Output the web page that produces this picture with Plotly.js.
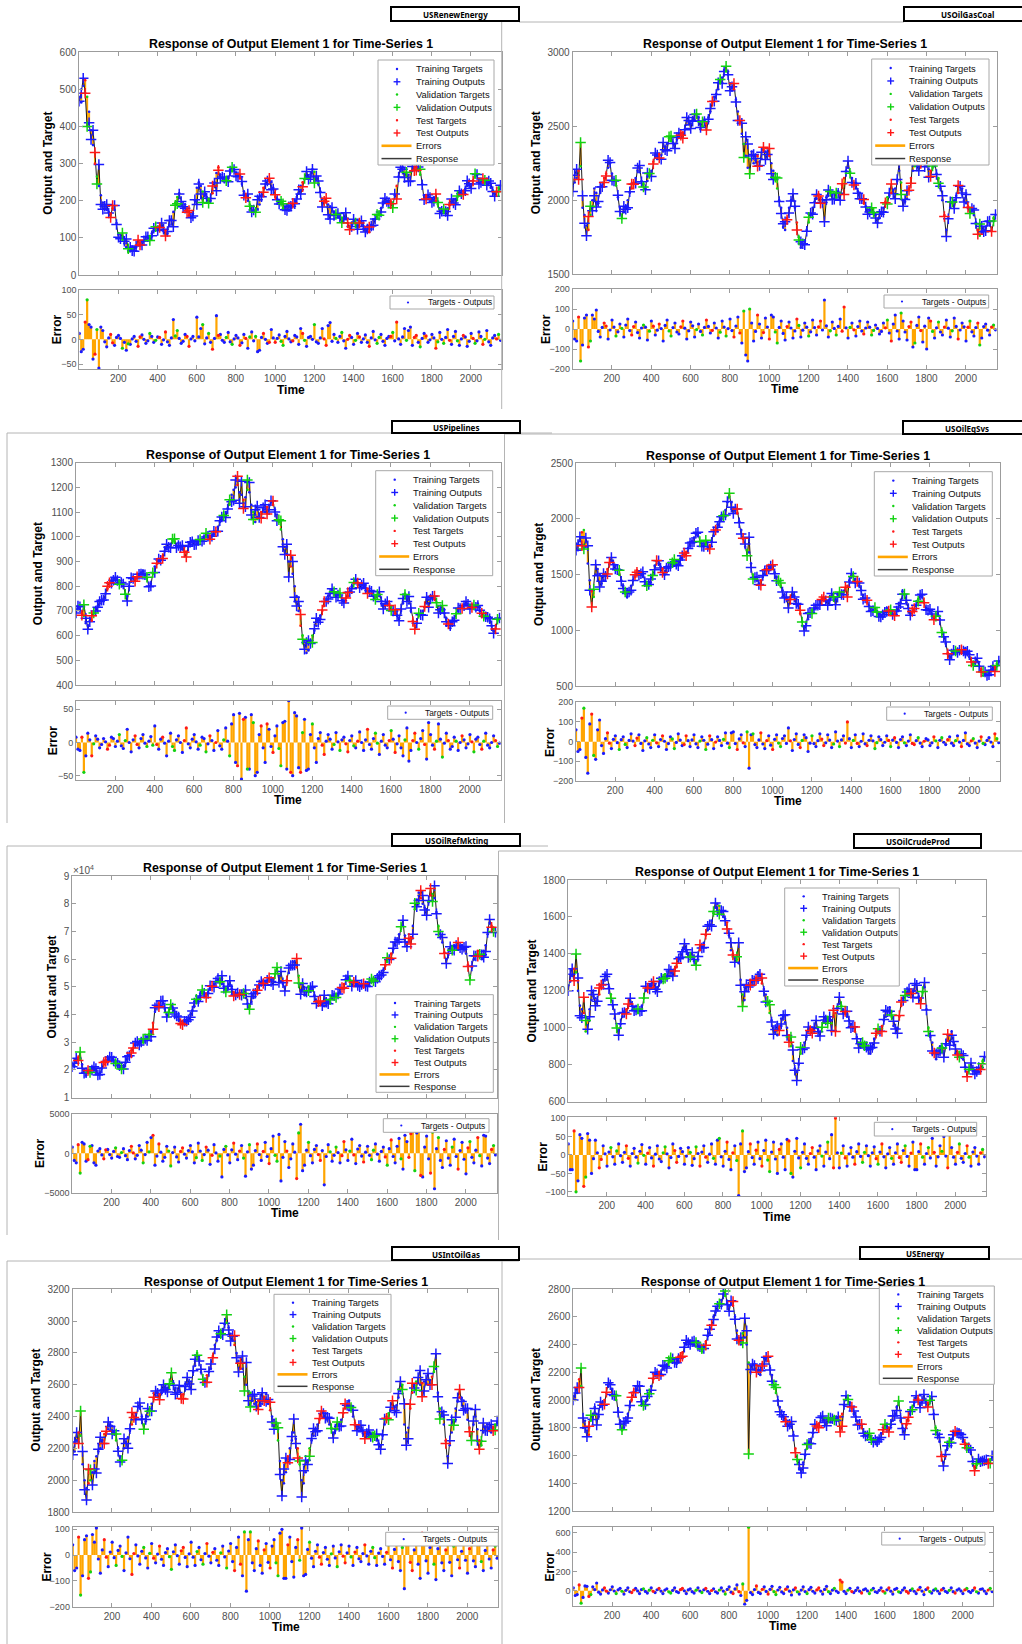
<!DOCTYPE html>
<html><head><meta charset="utf-8">
<script src="https://cdn.plot.ly/plotly-3.0.1.min.js"></script>
<style>html,body{margin:0;padding:0;background:#fff;}#chart{width:1022px;height:1644px;}</style>
</head><body><div id="chart"></div>
<script>
// ---------------- DATA ----------------
// two interleaved sampling grids of the time axis: A at t = 1,21,41,...  B at t = 11,31,51,...
const N_PTS = 108;
const TIME_A = Array.from({length: N_PTS}, (_, i) => 1 + 20 * i);
const TIME_B = Array.from({length: N_PTS}, (_, i) => 11 + 20 * i);
const XTICKS = [200, 400, 600, 800, 1000, 1200, 1400, 1600, 1800, 2000];

const PANEL_NAMES = ['USRenewEnergy','USOilGasCoal','USPipelines','USOilEqSvs','USOilRefMkting','USOilCrudeProd','USIntOilGas','USEnergy'];
const LEGEND_LABELS = ['Training Targets','Training Outputs','Validation Targets','Validation Outputs','Test Targets','Test Outputs','Errors','Response'];
const ERR_LEGEND_LABEL = 'Targets - Outputs';
const TITLE = 'Response of Output Element 1 for Time-Series 1';

// split of each sample: a = training, v = validation, e = test
const SPLIT_A = ["aavaeaaaea","avaaaeaava","aaeaavaaea","aaaveaaaav","aeaaavaeaa","eavaaaaeaa","vaaeaaavae","aaaaeavaaa","veaaaaevaa","aeavaaaaea","avaeaaav"].join('');
const SPLIT_B = ["aeaavaaaea","aavaaeaaav","eaaavaaeaa","avaaaeavaa","aaevaaaaea","avaaeaavaa","aaeaavaaea","veaaaavaae","aaavaeaaea","avaaeavaaa","eaavaaea"].join('');

// ---- USRenewEnergy
const TGT_RENEW_A = [480,510,480,390,300,240,195,175,165,175, 110,95,75,65,70,80,90,95,105,120, 125,130,120,135,170,210,190,190,160,165, 235,240,215,205,220,275,270,255,265,280, 275,260,225,200,185,175,190,235,245,250, 210,200,180,190,180,200,220,250,265,270, 278,245,205,195,185,170,160,155,150,130, 140,135,140,125,115,150,155,180,195,200, 195,240,280,285,270,280,290,270,215,210, 205,200,180,170,180,195,205,215,225,240, 245,265,260,250,260,235,220,235];
const TGT_RENEW_B = [465,525,440,350,265,215,180,170,180,140, 100,85,62,66,74,86,92,100,112,128, 132,122,112,150,195,220,180,175,155,200, 250,225,210,200,250,290,262,258,275,285, 268,245,210,190,172,178,215,245,255,235, 205,195,182,185,190,210,240,258,262,285, 262,225,200,190,178,165,160,150,140,135, 138,145,132,118,135,150,165,190,200,198, 215,265,290,275,278,285,285,245,212,208, 202,190,172,175,188,200,210,220,232,242, 255,268,255,255,248,228,225,240];
const ERR_RENEW_A = [12,-20,80,25,-30,-58,18,-15,10,-12, 8,-18,-22,-10,6,-14,9,-8,12,-6, 5,-10,15,-12,40,18,-8,10,-14,6, 45,22,-9,12,-20,48,10,-6,14,-10, 8,-12,10,-18,15,6,-22,12,-8,20, -6,9,-12,16,-5,8,-10,12,-14,6, 30,-8,22,-12,34,10,-6,14,-18,8, -10,12,-6,9,-14,16,-8,10,-12,6, 14,35,-10,22,18,-12,8,-15,12,-6, 10,-18,14,-8,20,-10,16,-12,8,-14, 12,-8,15,-10,18,-12,8,10];
const ERR_RENEW_B = [-25,35,30,-40,20,25,-5,3,-7,4, 2,-6,-9,1,-4,5,0,-3,6,-2, 4,-1,-5,3,7,2,-4,6,1,-3, 5,30,3,-6,2,8,-2,4,-5,1, 3,-7,2,5,-3,-25,4,0,-6,3, 2,-4,6,1,-3,5,22,-2,4,0, -5,3,1,28,-4,2,6,-3,0,4, -2,5,1,-6,3,-1,4,-4,2,6, -3,1,5,-2,25,4,-6,2,7,-1, 3,-5,0,4,-2,6,-3,1,5,-4, 2,-3,6,0,-5,3,1,-2];

// ---- USOilGasCoal
const TGT_GASCOAL_A = [2100,2150,2230,1900,1800,2000,2050,2050,2150,2220, 2180,2100,1950,1920,2000,2080,2150,2190,2110,2130, 2200,2290,2310,2330,2380,2400,2380,2430,2460,2510, 2520,2540,2560,2500,2520,2600,2700,2750,2830,2870, 2790,2750,2600,2450,2300,2280,2250,2300,2280,2330, 2300,2200,2080,1950,1800,1950,2000,1850,1680,1730, 1850,1950,2010,2020,2000,2030,2040,2020,2050,2150, 2220,2150,2080,2050,1980,1940,1920,1900,1880,1950, 2020,2050,2080,2200,2000,2010,2150,2230,2260,2250, 2230,2200,2230,2150,2000,1800,1950,2000,2050,2080, 1980,1950,1900,1800,1780,1820,1830,1880];
const TGT_GASCOAL_B = [2120,2200,1950,1830,1900,2080,1980,2100,2180,2250, 2140,2020,1880,1960,2050,2120,2200,2130,2080,2170, 2260,2300,2280,2360,2420,2390,2410,2450,2480,2530, 2550,2580,2480,2540,2560,2660,2720,2800,2880,2850, 2760,2680,2520,2380,2220,2330,2270,2260,2340,2320, 2250,2140,2000,1820,1880,2000,1950,1750,1700,1800, 1900,1990,2040,1980,2020,2050,2010,2060,2100,2200, 2190,2100,2060,2000,1960,1930,1910,1850,1910,1990, 2030,2070,2130,2120,1990,2080,2200,2250,2240,2240, 2210,2220,2180,2080,1900,1880,1980,2030,2090,2000, 1960,1930,1850,1760,1800,1850,1800,1900];
const ERR_GASCOAL_A = [40,-60,-160,55,-90,70,95,-40,30,-50, 45,-35,25,-40,50,-30,35,-45,20,-55, 40,-30,25,-60,45,-35,30,-25,40,-50, 35,-40,25,-30,45,-20,30,-45,40,-35, 50,-40,60,-70,-130,100,-60,70,-45,55, -50,60,-70,40,-55,35,-45,50,-40,30, -35,45,-30,40,145,-40,35,-30,50,110, -45,30,-35,40,-25,35,-30,20,-25,30, 45,-60,70,-50,40,-55,35,-70,60,-65, -100,40,-45,35,-30,45,-40,55,-50,30, -60,40,-35,30,-45,25,-30,20];
const ERR_GASCOAL_B = [-50,60,-80,70,-60,50,-12,8,15,-5, 10,-14,3,20,-8,12,-18,5,9,-11, 14,-6,2,18,-10,7,-15,11,4,-9, 16,-3,-12,8,13,-7,5,-16,10,2, -8,15,-20,90,-160,30,-12,25,-18,10, 70,-15,8,-22,12,5,-10,18,-6,9, -14,7,11,-5,16,-9,3,13,-11,6, 8,-4,12,-10,5,9,-7,3,-12,6, -20,25,-10,80,-15,12,-90,18,-8,14, 55,-12,6,-15,10,4,-9,13,-5,11, 9,-14,7,-80,12,-6,10,-4];

// ---- USPipelines
const TGT_PIPE_A = [700,705,680,640,660,710,730,750,790,820, 830,820,800,760,820,830,840,860,830,810, 880,900,920,950,970,980,975,950,940,970, 980,975,990,1000,1000,1010,1040,1070,1100,1130, 1190,1210,1170,1160,1180,1100,1080,1100,1100,1130, 1130,1090,1030,960,900,850,760,640,580,540, 600,640,680,720,760,780,770,760,740,760, 800,820,810,800,790,770,760,760,720,730, 720,690,670,730,760,700,640,680,700,730, 760,750,720,700,670,630,670,700,720,730, 720,710,730,680,690,660,620,660];
const TGT_PIPE_B = [710,690,650,660,690,720,740,770,810,830, 825,810,770,800,835,835,855,845,800,850, 890,910,940,960,985,960,960,940,960,985, 970,985,995,1000,1005,1020,1060,1090,1115,1170, 1200,1180,1150,1190,1130,1060,1090,1110,1120,1140, 1110,1060,990,930,880,800,700,600,530,580, 620,660,700,740,775,775,765,745,750,780, 810,815,805,795,780,765,765,740,725,725, 705,680,700,770,730,660,650,690,715,745, 755,735,710,690,650,650,690,710,725,725, 715,720,700,680,670,640,630,670];
const ERR_PIPE_A = [8,-12,-45,14,-20,10,-8,6,-10,8, -6,12,-9,20,-14,10,-8,12,-6,9, 25,-10,8,-20,14,-12,10,-15,22,-8, 12,-10,8,-14,10,-12,18,-10,22,-20, 42,-35,-55,38,-40,30,-45,25,-30,20, -15,25,-35,32,63,-50,40,-45,35,-40, 28,-30,15,-18,12,-10,15,-12,8,-14, 10,-8,16,-12,20,-10,14,-18,12,-8, 18,-15,10,-20,22,-12,14,-10,18,-25, 12,-10,28,-22,14,-10,8,-12,10,-8, 12,-14,8,-10,14,-8,10,-6];
const ERR_PIPE_B = [-10,8,-20,4,-2,5,-3,1,-4,6, 2,-5,3,0,4,-3,6,-1,2,-4, -3,5,-1,2,-6,4,0,3,-2,5, 1,-4,6,-2,3,0,-5,4,2,28, -30,44,35,-40,42,-50,12,-8,28,-6, 10,-9,30,-40,-45,45,-38,15,-42,12, -8,6,-4,2,5,-3,1,4,-2,3, -5,2,0,4,-3,6,-1,2,-4,3, 5,-2,-8,4,-28,3,0,6,-3,30, -4,2,5,-1,3,-6,2,0,4,-2, 1,5,-3,2,-4,0,3,-1];

// ---- USOilEqSvs
const TGT_EQSVS_A = [1780,1800,1900,1600,1350,1500,1500,1450,1550,1620, 1580,1500,1400,1300,1400,1480,1530,1480,1420,1430, 1580,1600,1550,1520,1600,1600,1620,1650,1700,1760, 1830,1850,1780,1770,1760,1850,1950,2000,2080,2200, 2100,2050,1900,1750,1700,1500,1450,1450,1500,1580, 1550,1480,1400,1320,1270,1300,1280,1150,1030,1100, 1180,1200,1270,1280,1260,1300,1280,1320,1350,1400, 1480,1460,1400,1320,1250,1200,1170,1150,1120,1200, 1160,1150,1180,1350,1250,1170,1180,1280,1300,1200, 1170,1120,1140,1000,880,760,800,830,800,840, 760,700,720,650,610,620,650,700];
const TGT_EQSVS_B = [1720,1880,1750,1450,1300,1550,1420,1500,1600,1600, 1540,1450,1330,1350,1450,1540,1500,1440,1400,1500, 1620,1570,1500,1560,1620,1590,1640,1680,1740,1800, 1860,1800,1760,1740,1800,1900,1980,2040,2150,2150, 2080,1980,1820,1720,1600,1460,1420,1480,1550,1560, 1520,1440,1360,1290,1280,1310,1220,1080,1060,1150, 1190,1230,1290,1260,1280,1290,1300,1330,1380,1450, 1490,1430,1360,1280,1220,1180,1160,1130,1160,1180, 1150,1170,1250,1320,1200,1160,1230,1310,1250,1190, 1140,1130,1100,940,800,780,820,820,820,800, 720,710,680,620,600,640,670,720];
const ERR_EQSVS_A = [60,-40,170,-160,140,-90,110,-60,45,-35, 30,-40,25,-30,40,-20,35,-45,20,-30, 35,-25,30,-40,25,-35,40,-20,30,-25, 35,-30,25,-40,30,-35,25,-20,45,-30, 50,-40,35,-25,-135,40,-30,45,-35,30, -40,35,-25,30,70,-45,40,-30,35,-50, 30,-25,40,-20,35,-30,50,-25,30,100, -30,35,-25,40,-20,30,-35,25,-20,30, -25,20,-30,25,-20,35,-15,20,-25,15, -20,25,-30,20,-15,25,-20,30,-25,45, -20,15,-30,25,-15,20,-25,15];
const ERR_EQSVS_B = [-50,120,-80,90,-70,60,-20,15,-8,12, -5,10,-14,6,3,18,-9,4,-12,7, -6,11,2,-10,14,-4,8,-15,5,9, -11,3,7,-13,10,-2,6,12,-8,45, -10,14,-6,50,35,-15,9,-12,5,-18, 12,-7,16,-9,4,11,-14,6,20,-8, -10,5,13,-6,8,-12,3,9,-7,15, 6,-9,2,-11,7,4,-5,10,-3,6, 8,-4,11,-6,3,-9,5,-7,2,9, -6,4,7,-3,10,-8,5,-2,6,-11, 4,-7,3,-9,6,-2,40,-5];

// ---- USOilRefMkting
const TGT_REFMKT_A = [22000,23000,24000,20000,19000,21000,19000,19000,22000,24000, 24000,23000,21000,21000,24000,27000,29000,30000,30000,32000, 34000,41000,44000,44000,40000,42000,41000,38000,37000,37000, 40000,43000,46000,48000,47000,49000,51000,52000,51000,49000, 51000,48000,47000,48000,46000,43000,46000,50000,51000,52000, 52000,53000,56000,52000,50000,55000,59000,57000,51000,47000, 50000,49000,45000,44000,43000,45000,46000,47000,48000,51000, 53000,52000,51000,51000,50000,51000,52000,53000,53000,56000, 59000,62000,65000,69000,72000,66000,68000,78000,84000,80000, 78000,83000,82000,72000,66000,60000,63000,65000,64000,65000, 62000,54000,60000,63000,60000,65000,73000,71000];
const TGT_REFMKT_B = [21500,24500,22000,18000,20000,20000,18500,20500,23500,24500, 23500,22000,20500,22500,25500,28000,30000,30500,31000,33000, 37000,43000,45000,42000,41000,42500,39000,37000,37500,38500, 41500,45000,47000,47500,48000,50000,52000,51500,50000,50000, 49500,47000,47500,47000,44000,44500,48000,50500,51500,52000, 52500,54500,54000,51000,52500,57000,58000,54000,49000,48500, 49500,47000,44500,43500,44000,45500,46500,47500,49500,53000, 52500,51500,51000,50500,50500,51500,52500,53000,54500,57500, 60500,63500,67000,71000,68500,67000,72000,81500,82000,78500, 80500,83500,77000,68000,62500,61500,64000,64500,64500,63500, 58000,57000,61500,61500,63000,69000,72000,69500];
const ERR_REFMKT_A = [800,-1200,-2500,1200,-800,1000,-1500,600,-700,500, -600,700,-500,600,-800,900,-700,1000,-1200,1400, 2000,-1500,1200,-1000,900,-1600,800,-1100,700,-600, 1000,-1200,1300,-900,800,-1400,1100,-1000,-3000,900, -1200,1300,-800,1000,-2900,1100,-1500,1200,-900,1400, -1300,2200,-1000,-3500,1500,-1800,1200,-3200,3700,-1500, 1400,-1200,1000,-900,-4000,1100,-1000,800,-1200,1500, -900,1800,-1300,1000,-1100,900,-800,1200,-1000,800, -1500,1700,-1200,1900,-2000,1500,2500,-2200,2800,-3000, 2200,-2500,-4500,2000,-1800,1600,-1500,1800,-2000,1400, -2600,1500,-1200,2000,-1600,2200,-1300,1000];
const ERR_REFMKT_B = [-900,1100,1400,-1000,900,-1200,300,-200,450,-150, 250,-400,100,-300,350,50,-250,400,-150,200, 2300,-350,150,-500,300,100,-450,250,-100,350, 200,-550,300,-150,400,-250,50,-350,500,-200, 450,-100,300,-600,200,-2000,350,-150,250,-400, 600,-250,2400,-500,300,-700,150,2600,-2200,400, -300,500,-150,350,-400,200,-250,100,-300,450, 300,-200,550,-350,150,-250,400,-100,250,-450, 600,-400,900,-700,2300,-500,3000,2600,-2800,800, -700,2700,600,-900,500,-600,800,-400,350,-750, 700,-500,400,-300,2300,-600,500,-200];

// ---- USOilCrudeProd
const TGT_CRUDE_A = [1230,1280,1300,1120,1080,1050,1150,1160,1180,1260, 1260,1180,1050,990,1060,1100,1130,1110,1080,1120, 1200,1230,1220,1220,1250,1290,1280,1310,1330,1400, 1430,1400,1380,1360,1420,1460,1530,1580,1650,1660, 1600,1570,1420,1380,1350,1180,1200,1260,1230,1300, 1240,1180,1080,1000,960,1050,1030,960,820,760, 860,920,980,990,1000,980,1030,1060,1040,1080, 1130,1100,1060,1020,980,920,900,920,860,940, 970,1010,1060,1110,1010,1000,1120,1200,1180,1200, 1190,1160,1220,1000,920,830,900,890,930,980, 860,870,830,760,780,770,760,820];
const TGT_CRUDE_B = [1250,1320,1200,1100,980,1100,1170,1150,1220,1280, 1220,1120,1010,1020,1090,1120,1120,1090,1100,1160, 1220,1230,1210,1240,1270,1280,1300,1320,1370,1420, 1420,1390,1360,1390,1440,1500,1560,1620,1670,1630, 1590,1500,1400,1370,1260,1150,1230,1250,1270,1280, 1210,1130,1040,980,1000,1060,1000,900,780,800, 890,950,990,995,990,1000,1050,1050,1060,1110, 1120,1080,1040,1000,950,910,910,880,900,960, 990,1040,1090,1060,1000,1060,1160,1190,1190,1200, 1170,1190,1100,950,870,860,900,910,960,920, 860,850,790,770,780,760,780,840];
const ERR_CRUDE_A = [30,-40,-100,55,-85,58,-50,40,-35,25, -30,20,-25,30,-20,25,-30,18,-22,28, -25,20,-30,25,-18,22,-35,30,-20,18, -25,20,-28,22,-30,25,-20,30,-25,45, -30,35,-40,25,-110,65,-35,30,-25,35, -30,40,-45,35,-50,30,-40,38,-60,45, -35,30,-25,20,-40,25,-30,35,55,100, -35,25,-30,20,-25,30,-20,25,-30,22, -25,30,-35,20,-25,30,-20,25,-30,35, -40,30,-25,20,45,-30,25,50,-35,20, -25,30,-20,25,-30,20,-25,15];
const ERR_CRUDE_B = [-40,65,-70,45,-60,40,-10,6,-12,3, 8,-5,11,-2,7,-9,4,-6,10,-1, 5,-8,2,-11,6,3,-7,12,-4,9, -3,7,-10,4,8,-6,2,-9,40,-5, 10,-12,6,-15,30,-45,9,-7,13,-10, 12,-14,8,-11,15,-6,42,-50,10,-8, 7,-9,4,-6,11,-3,8,-10,-35,6, 5,-8,3,-6,9,-4,7,-2,6,-10, 8,-5,3,-9,6,-7,12,-4,5,-40, 9,-6,4,-8,7,-5,10,-3,55,-6, 7,-9,4,-6,8,-3,6,-5];

// ---- USIntOilGas
const TGT_INTOG_A = [2200,2250,2280,2000,1980,2050,2150,2200,2290,2320, 2340,2250,2150,2200,2270,2350,2420,2450,2350,2400, 2480,2530,2540,2560,2580,2620,2580,2560,2540,2600, 2620,2720,2780,2600,2660,2700,2850,2900,2950,2990, 2920,2850,2750,2700,2600,2550,2480,2500,2480,2540, 2440,2380,2250,2000,2050,2200,2300,2200,2000,2050, 2200,2280,2350,2400,2420,2350,2300,2320,2380,2450, 2500,2400,2340,2320,2300,2280,2300,2250,2220,2350, 2420,2450,2470,2560,2350,2330,2550,2620,2600,2620, 2600,2650,2700,2450,2350,2150,2300,2450,2520,2500, 2380,2300,2400,2250,2300,2350,2300,2350];
const TGT_INTOG_B = [2180,2300,2100,1950,2000,2120,2180,2250,2300,2350, 2300,2200,2120,2240,2310,2400,2460,2400,2370,2440, 2510,2550,2550,2580,2600,2610,2550,2530,2580,2610, 2680,2800,2680,2620,2680,2780,2880,2930,2980,2960, 2880,2800,2700,2650,2560,2500,2490,2470,2520,2480, 2400,2330,2120,1980,2150,2250,2260,2100,1980,2120, 2250,2320,2380,2430,2380,2330,2310,2350,2420,2480, 2450,2360,2330,2310,2290,2290,2270,2230,2280,2400, 2440,2460,2520,2600,2300,2450,2600,2610,2610,2610, 2630,2680,2550,2400,2250,2220,2380,2500,2510,2430, 2330,2350,2320,2220,2330,2320,2330,2360];
const ERR_INTOG_A = [40,-50,-155,60,-90,80,105,-70,60,-45, 50,-40,35,-60,70,-75,40,-35,30,-50, 45,-30,35,-40,25,-55,40,-35,30,-45, 50,-40,30,-35,45,-30,25,-40,35,-50, 45,-60,70,-80,-140,90,-60,55,-70,45, -50,60,-80,100,-90,70,-85,60,105,-75, 50,-45,40,-35,30,-40,35,-45,40,-30, 35,-40,30,-25,40,-35,30,-40,25,-35, 40,-50,45,-60,-130,70,-60,55,-90,60, -70,50,-95,65,-60,45,-80,55,-50,60, -70,50,-45,55,-60,40,-50,35];
const ERR_INTOG_B = [-60,70,-80,75,-65,50,-15,20,-8,12, -10,18,-5,9,-14,6,-3,15,-11,7, -12,4,-16,10,-6,13,-2,17,-9,5, -8,14,-18,6,-4,11,-20,9,-7,16, -25,30,-35,90,60,-30,25,-40,20,-28, 35,-30,85,-90,40,-25,30,-20,-80,22, -12,15,-8,10,-16,5,-11,13,-4,9, -7,12,-14,6,-3,15,-10,8,-5,11, -18,22,-25,30,80,-28,20,-35,85,-22, 30,-35,25,-30,20,-28,35,-18,15,-20, 25,-22,70,-25,18,-15,20,-12];

// ---- USEnergy
const TGT_ENERGY_A = [2030,2050,2100,1850,1750,1900,1900,1950,2000,2100, 2080,2000,1850,1800,1900,2000,2080,2070,1980,2000, 2100,2180,2200,2220,2250,2280,2300,2280,2340,2400, 2420,2400,2420,2350,2420,2480,2600,2650,2720,2750, 2680,2680,2500,2400,2450,2270,2220,2250,2180,2300, 2280,2180,2050,1950,1850,1850,1800,1650,1500,1550, 1650,1720,1800,1830,1850,1860,1840,1880,1860,1900, 2000,1980,1900,1850,1800,1760,1730,1720,1680,1760, 1800,1800,1850,1950,1850,1780,1850,1950,2000,1980, 2000,1980,2000,1800,1700,1550,1650,1720,1750,1780, 1700,1680,1620,1520,1550,1580,1540,1570];
const TGT_ENERGY_B = [2000,2150,1800,1780,1850,1950,1880,1970,2050,2120, 2030,1920,1780,1850,1950,2060,2100,2000,1960,2050, 2150,2200,2180,2250,2270,2300,2260,2320,2380,2420, 2410,2420,2380,2380,2460,2540,2630,2700,2760,2700, 2700,2600,2420,2480,2400,2200,2260,2200,2260,2300, 2230,2100,2000,1880,1860,1820,1750,1560,1480,1600, 1700,1760,1820,1870,1850,1860,1870,1850,1880,1960, 2010,1940,1880,1820,1770,1740,1720,1700,1720,1780, 1810,1820,1900,1980,1800,1820,1920,1980,2010,1990, 1990,1990,1900,1750,1600,1600,1700,1740,1770,1750, 1690,1650,1560,1530,1570,1560,1550,1590];
const ERR_ENERGY_A = [30,-40,-130,50,-60,40,80,-35,30,-25, 40,-30,25,-35,30,-20,25,-30,20,-25, 30,-20,25,-30,20,-25,30,-20,25,-30, 20,-25,30,-20,25,-30,20,-25,30,-35, 40,-30,60,-50,-140,660,-40,50,-30,40, -35,45,-40,35,-30,40,-45,30,-35,40, -30,35,-25,30,-35,45,-30,25,-20,90, -30,25,-20,30,-25,20,-30,25,-20,30, -25,30,-35,25,-20,30,-25,20,-30,35, -40,30,-25,20,-30,25,-20,30,-25,20, -30,25,-20,30,-25,20,-30,25];
const ERR_ENERGY_B = [-50,60,-70,45,-40,12,-15,8,-5,10, -3,9,-6,4,-11,7,-2,12,-8,5, -7,10,-4,6,-12,3,-9,11,-1,8, -10,5,-3,9,-6,2,-11,7,-4,13, -15,18,-10,70,-100,-20,12,-18,15,-8, 14,-10,7,-13,16,-5,9,-12,6,-9, 11,-6,8,-4,13,-10,5,-3,110,-7, 6,-9,3,-5,10,-2,7,-11,4,-6, 9,-5,14,-12,6,-8,3,-6,10,-4, 12,-9,5,-3,8,-7,4,-10,6,-2, 9,-6,3,-11,15,-4,7,-9];

// axis ticks
const YT_RENEW = [0,100,200,300,400,500,600],        ET_RENEW = [-50,0,50,100];
const YT_GASCOAL = [1500,2000,2500,3000],            ET_GASCOAL = [-200,-100,0,100,200];
const YT_PIPE = [400,500,600,700,800,900,1000,1100,1200,1300], ET_PIPE = [-50,0,50];
const YT_EQSVS = [500,1000,1500,2000,2500],          ET_EQSVS = [-200,-100,0,100,200];
const YT_REFMKT = [10000,20000,30000,40000,50000,60000,70000,80000,90000];
const YT_REFMKT_TEXT = ['1','2','3','4','5','6','7','8','9'], ET_REFMKT = [-5000,0,5000];
const YT_CRUDE = [600,800,1000,1200,1400,1600,1800], ET_CRUDE = [-100,-50,0,50,100];
const YT_INTOG = [1800,2000,2200,2400,2600,2800,3000,3200], ET_INTOG = [-200,-100,0,100];
const YT_ENERGY = [1200,1400,1600,1800,2000,2200,2400,2600,2800], ET_ENERGY = [0,200,400,600];

// ---------------- LAYOUT / STYLE ----------------
const W = 1022, H = 1644;
const FONT = 'Liberation Sans, Arial, Helvetica, sans-serif';
const COLORS = {a:'#1a1aff', v:'#12d212', e:'#ff1818'};
const ORANGE = '#ffa500';
const fx = x => x / W, fy = y => 1 - y / H;
const weave = (a, b) => { const o = []; a.forEach((v, i) => { o.push(v); o.push(b[i]); }); return o; };
const TIME = weave(TIME_A, TIME_B);
const SPLIT = weave(SPLIT_A.split(''), SPLIT_B.split(''));

const PANELS = [
 {tgt:weave(TGT_RENEW_A,TGT_RENEW_B), err:weave(ERR_RENEW_A,ERR_RENEW_B), yt:YT_RENEW, yr:[0,600], et:ET_RENEW, er:[-60,100],
  L:79.3,R:501.7,T:52.3,B:275,eT:290,eB:369, titleY:44, yTitleX:48, eTitleX:56.7, timeY:390,
  leg:[378,494,60,165], eleg:[390,494,296,309], box:[391,519,7,21]},
 {tgt:weave(TGT_GASCOAL_A,TGT_GASCOAL_B), err:weave(ERR_GASCOAL_A,ERR_GASCOAL_B), yt:YT_GASCOAL, yr:[1500,3000], et:ET_GASCOAL, er:[-200,200],
  L:572.7,R:996.7,T:52.3,B:274.3,eT:289,eB:369, titleY:44, yTitleX:536, eTitleX:546, timeY:389,
  leg:[871.7,989,59,165], eleg:[884,988.7,295,308], box:[904,1030,7,21]},
 {tgt:weave(TGT_PIPE_A,TGT_PIPE_B), err:weave(ERR_PIPE_A,ERR_PIPE_B), yt:YT_PIPE, yr:[400,1300], et:ET_PIPE, er:[-56.5,63],
  L:76,R:500.7,T:462.7,B:685,eT:700.7,eB:780, titleY:455, yTitleX:38.3, eTitleX:53, timeY:800,
  leg:[375.7,492.7,470.7,575.7], eleg:[387.7,492.7,706,719.3], box:[392,520,421,433]},
 {tgt:weave(TGT_EQSVS_A,TGT_EQSVS_B), err:weave(ERR_EQSVS_A,ERR_EQSVS_B), yt:YT_EQSVS, yr:[500,2500], et:ET_EQSVS, er:[-200,200],
  L:576,R:1000,T:463.3,B:686,eT:702.3,eB:781, titleY:456, yTitleX:538.3, eTitleX:549.3, timeY:801,
  leg:[874.3,992.3,471.7,576], eleg:[886.7,992.3,707,720.3], box:[903,1030,421,434]},
 {tgt:weave(TGT_REFMKT_A,TGT_REFMKT_B), err:weave(ERR_REFMKT_A,ERR_REFMKT_B), yt:YT_REFMKT, ytext:YT_REFMKT_TEXT, yr:[10000,90000], et:ET_REFMKT, er:[-5000,5000],
  L:72.3,R:496.7,T:876,B:1097.7,eT:1114,eB:1192.7, titleY:868.3, yTitleX:51.7, eTitleX:40.7, timeY:1213,
  leg:[376,493.3,994.7,1092.3], eleg:[383.3,489,1118.7,1132.3], box:[392,520,834,846]},
 {tgt:weave(TGT_CRUDE_A,TGT_CRUDE_B), err:weave(ERR_CRUDE_A,ERR_CRUDE_B), yt:YT_CRUDE, yr:[600,1800], et:ET_CRUDE, er:[-112,102],
  L:568.3,R:985.7,T:880,B:1101.7,eT:1117.3,eB:1196.3, titleY:872.3, yTitleX:531.7, eTitleX:542.7, timeY:1217.3,
  leg:[784.7,899.3,888,986], eleg:[874.3,976.7,1122.3,1136], box:[854,981,834,848]},
 {tgt:weave(TGT_INTOG_A,TGT_INTOG_B), err:weave(ERR_INTOG_A,ERR_INTOG_B), yt:YT_INTOG, yr:[1800,3200], et:ET_INTOG, er:[-200,109],
  L:72.7,R:498.3,T:1289.3,B:1512,eT:1527,eB:1606.7, titleY:1282, yTitleX:36, eTitleX:46.7, timeY:1627.3,
  leg:[274,391,1294.3,1392.3], eleg:[385.7,498.3,1532.3,1546], box:[392,519,1247,1260]},
 {tgt:weave(TGT_ENERGY_A,TGT_ENERGY_B), err:weave(ERR_ENERGY_A,ERR_ENERGY_B), yt:YT_ENERGY, yr:[1200,2800], et:ET_ENERGY, er:[-156,665],
  L:573.3,R:993.3,T:1289,B:1511,eT:1526.7,eB:1605.7, titleY:1281.7, yTitleX:536, eTitleX:550.3, timeY:1626,
  leg:[879.3,994.3,1286,1384.3], eleg:[881.7,985,1532.3,1545], box:[860,989,1247,1259]}
];

const FRAMES = [
 [501.7,22,501.7,409],[519,22,904,22],
 [7,433,392,433],[520,433,552,433],[7,433,7,823],[504.5,434,504.5,823],[504.5,434,1022,434],
 [7,846,548,846],[7,846,7,1235],[498.5,851,498.5,1240],[498.5,851,1022,851],
 [7,1261,519,1261],[7,1261,7,1644],[502,1261,502,1644],[511,1259,1022,1259]
];

const traces = [], shapes = [], annotations = [];
const layout = {width:W, height:H, margin:{l:0,r:0,t:0,b:0,pad:0}, paper_bgcolor:'#fff', plot_bgcolor:'#fff',
  showlegend:false, hovermode:false};

function line(x0,y0,x1,y1,color,width){
  shapes.push({type:'line',xref:'paper',yref:'paper',x0:fx(x0),y0:fy(y0),x1:fx(x1),y1:fy(y1),line:{color:color,width:width},layer:'above'});
}
function rect(x0,x1,y0,y1,color,width,fill){
  shapes.push({type:'rect',xref:'paper',yref:'paper',x0:fx(x0),x1:fx(x1),y0:fy(y1),y1:fy(y0),line:{color:color,width:width},fillcolor:fill,layer:'above'});
}
function dot(cx,cy,r,color){
  shapes.push({type:'circle',xref:'paper',yref:'paper',x0:fx(cx-r),x1:fx(cx+r),y0:fy(cy+r),y1:fy(cy-r),line:{width:0},fillcolor:color,layer:'above'});
}
function plus(cx,cy,h,color){
  line(cx-h,cy,cx+h,cy,color,1.4); line(cx,cy-h,cx,cy+h,color,1.4);
}
function text(x,y,str,size,opts){
  annotations.push(Object.assign({xref:'paper',yref:'paper',x:fx(x),y:fy(y),text:str,showarrow:false,
    xanchor:'center',yanchor:'middle',font:{family:FONT,size:size,color:'#000'}},opts||{}));
}

const axBase = {showgrid:false, zeroline:false, showline:true, linecolor:'#9c9c9c', linewidth:1, mirror:'ticks',
  ticks:'inside', ticklen:4, tickcolor:'#9c9c9c', tickwidth:1, automargin:false, fixedrange:true,
  tickmode:'array', tickfont:{family:FONT,size:10,color:'#505050'}};

FRAMES.forEach(f => line(f[0],f[1],f[2],f[3],'#b4b4b4',1));

PANELS.forEach((P, p) => {
  const r = 2*p + 1, e = 2*p + 2;
  const sfx = k => (k === 1 ? '' : String(k));
  const out = P.tgt.map((v,i) => v - P.err[i]);

  layout['xaxis'+sfx(r)] = Object.assign({}, axBase, {domain:[fx(P.L),fx(P.R)], range:[1,2157], tickvals:XTICKS, showticklabels:false, anchor:'y'+r});
  layout['yaxis'+sfx(r)] = Object.assign({}, axBase, {domain:[fy(P.B),fy(P.T)], range:P.yr, tickvals:P.yt, anchor:'x'+r},
      P.ytext ? {ticktext:P.ytext} : {});
  layout['xaxis'+sfx(e)] = Object.assign({}, axBase, {domain:[fx(P.L),fx(P.R)], range:[1,2157], tickvals:XTICKS, showticklabels:true, anchor:'y'+e});
  layout['yaxis'+sfx(e)] = Object.assign({}, axBase, {domain:[fy(P.eB),fy(P.eT)], range:P.er, tickvals:P.et, anchor:'x'+e,
      tickfont:{family:FONT,size:9,color:'#505050'}});

  const xr = 'x'+r, yr = 'y'+r, xe = 'x'+e, ye = 'y'+e;
  const sx=[], sy=[], stx=[], sty=[];
  TIME.forEach((t,i) => { sx.push(t,t,null); sy.push(P.tgt[i], out[i], null); stx.push(t,t,null); sty.push(0, P.err[i], null); });
  traces.push({x:sx, y:sy, xaxis:xr, yaxis:yr, mode:'lines', line:{color:ORANGE, width:2}});
  traces.push({x:TIME, y:out, xaxis:xr, yaxis:yr, mode:'lines', line:{color:'#1e1e1e', width:1}});
  ['a','v','e'].forEach(s => {
    const idx = TIME.map((_,i) => i).filter(i => SPLIT[i] === s);
    traces.push({x:idx.map(i=>TIME[i]), y:idx.map(i=>P.tgt[i]), xaxis:xr, yaxis:yr, mode:'markers',
      marker:{symbol:'circle', size:2.6, color:COLORS[s]}});
    traces.push({x:idx.map(i=>TIME[i]), y:idx.map(i=>out[i]), xaxis:xr, yaxis:yr, mode:'markers',
      marker:{symbol:'cross-thin-open', size:7.5, color:COLORS[s], line:{width:1.5, color:COLORS[s]}}});
  });
  traces.push({x:stx, y:sty, xaxis:xe, yaxis:ye, mode:'lines', line:{color:ORANGE, width:2.2}});
  ['a','v','e'].forEach(s => {
    const idx = TIME.map((_,i) => i).filter(i => SPLIT[i] === s);
    traces.push({x:idx.map(i=>TIME[i]), y:idx.map(i=>P.err[i]), xaxis:xe, yaxis:ye, mode:'markers',
      marker:{symbol:'circle', size:3.2, color:COLORS[s]}});
  });

  const cx = (P.L + P.R) / 2;
  text(cx, P.titleY, '<b>'+TITLE+'</b>', 12.4);
  text(P.yTitleX, (P.T+P.B)/2, '<b>Output and Target</b>', 12, {textangle:-90});
  text(P.eTitleX, (P.eT+P.eB)/2, '<b>Error</b>', 12, {textangle:-90});
  text(cx, P.timeY, '<b>Time</b>', 12);
  if (P.ytext) text(P.L - 1, P.T - 6, '×10<sup>4</sup>', 10, {xanchor:'left', font:{family:FONT,size:10,color:'#505050'}});

  const [lx0,lx1,ly0,ly1] = P.leg;
  rect(lx0,lx1,ly0,ly1,'#a8a8a8',1,'#ffffff');
  const sp = (ly1 - ly0) / 8.2;
  const legCol = [COLORS.a, COLORS.a, COLORS.v, COLORS.v, COLORS.e, COLORS.e];
  LEGEND_LABELS.forEach((lab, i) => {
    const cy = ly0 + sp * (0.7 + i);
    const ix = lx0 + 19;
    if (i < 6) { if (i % 2 === 0) dot(ix, cy, 1.2, legCol[i]); else plus(ix, cy, 3.4, legCol[i]); }
    else if (i === 6) line(lx0 + 3.5, cy, lx0 + 33.5, cy, ORANGE, 2.6);
    else line(lx0 + 3.5, cy, lx0 + 33.5, cy, '#3a3a3a', 1.5);
    text(lx0 + 35.5, cy, lab, 9.4, {xanchor:'left', font:{family:FONT,size:9.4,color:'#111'}});
  });
  const [ex0,ex1,ey0,ey1] = P.eleg;
  rect(ex0,ex1,ey0,ey1,'#a8a8a8',1,'#ffffff');
  dot(ex0 + 18, (ey0+ey1)/2, 1.1, COLORS.a);
  text(ex0 + 35.5, (ey0+ey1)/2, ERR_LEGEND_LABEL, 8.4, {xanchor:'left', font:{family:FONT,size:8.4,color:'#111'}});

  const [bx0,bx1,by0,by1] = P.box;
  rect(bx0,bx1,by0,by1,'#000',2,'#ffffff');
  const tx = (bx0 + bx1) / 2;
  text(tx, (by0+by1)/2 + 0.5, '<b>'+PANEL_NAMES[p]+'</b>', 8, {font:{family:'Noto Sans, DejaVu Sans, sans-serif',size:8,color:'#000'}});
});

layout.shapes = shapes;
layout.annotations = annotations;
Plotly.newPlot('chart', traces, layout, {staticPlot:true, displayModeBar:false});
</script>
</body></html>
